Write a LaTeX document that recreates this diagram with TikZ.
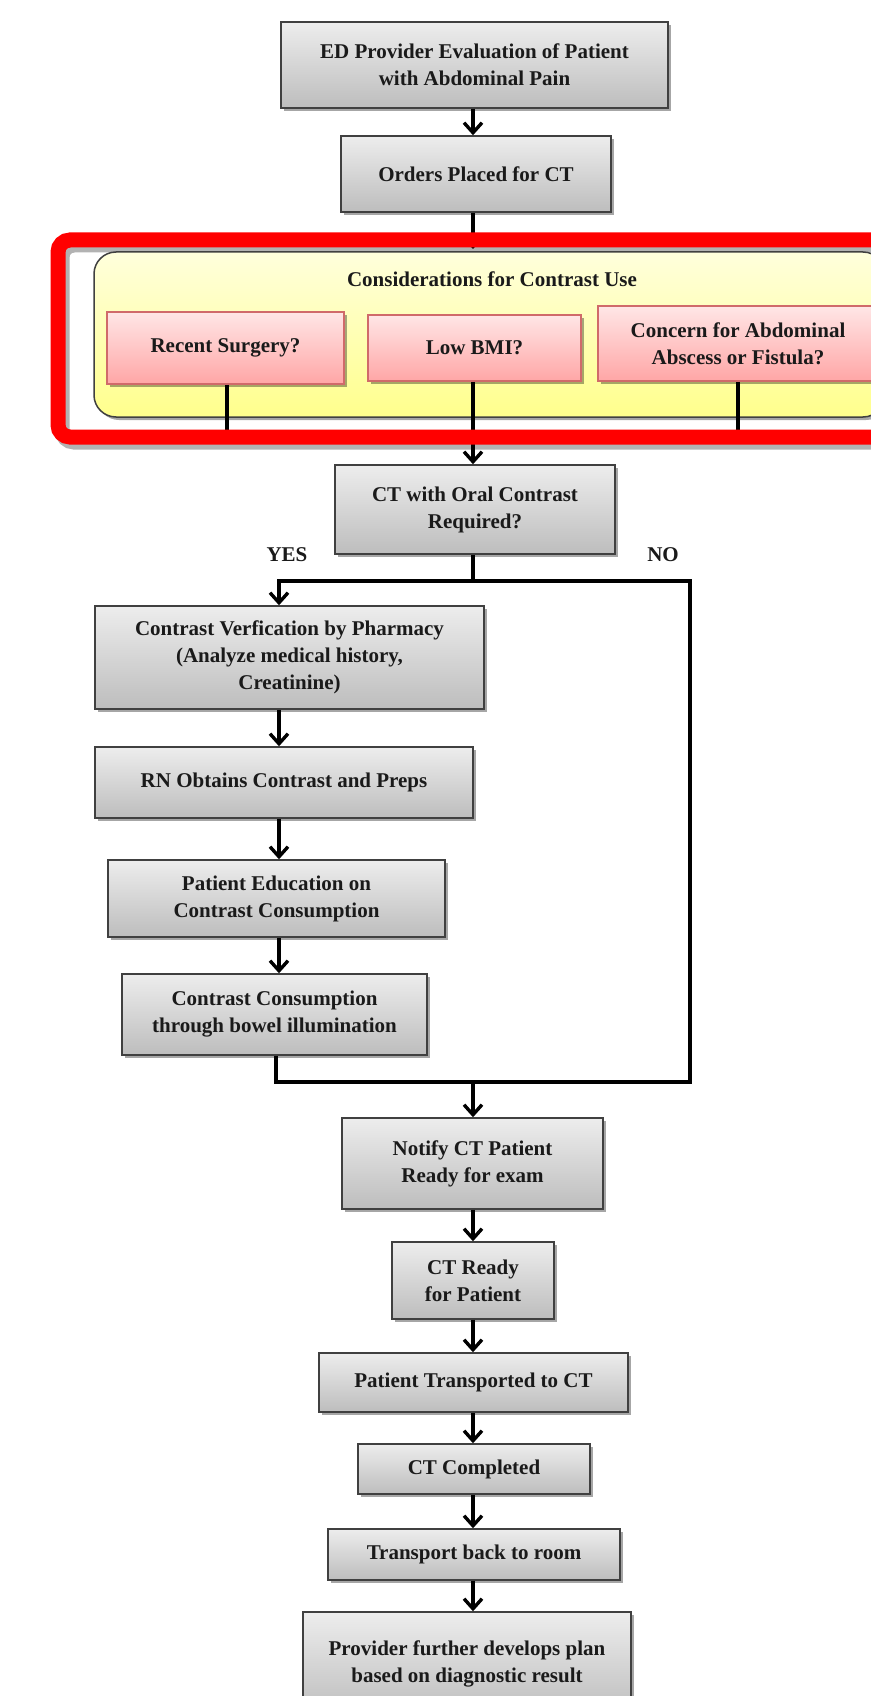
\documentclass[tikz,border=0pt]{standalone}
\usepackage{fontspec}
\setmainfont{Liberation Serif}
\usetikzlibrary{shadows,arrows.meta}
\definecolor{gtop}{HTML}{EDEDED}
\definecolor{gbot}{HTML}{BDBDBD}
\definecolor{ptop}{HTML}{FFE6E6}
\definecolor{pbot}{HTML}{FFA6A6}
\definecolor{pbord}{HTML}{D06A6A}
\definecolor{ytop}{HTML}{FFFFDC}
\definecolor{ybot}{HTML}{FFFF8C}
\definecolor{txt}{HTML}{1A1A1A}
\begin{document}
\begin{tikzpicture}[x=1pt,y=-1pt,
  shd/.style={drop shadow={shadow xshift=3pt,shadow yshift=-3pt,fill=black,opacity=0.35}},
  gbox/.style={draw=black!75,line width=1.5pt,top color=gtop,bottom color=gbot,shd,
    align=center,inner sep=0pt,text=txt,font=\fontsize{21}{27}\selectfont\bfseries},
  pbox/.style={draw=pbord,line width=1.5pt,top color=ptop,bottom color=pbot,shd,
    align=center,inner sep=0pt,text=txt,font=\fontsize{21}{27}\selectfont\bfseries},
  lbl/.style={inner sep=0pt,text=txt,font=\fontsize{21}{27}\selectfont\bfseries},
  conn/.style={line width=3.4pt,black},
  arr/.style={conn,-{Straight Barb[length=10pt,width=18pt]}}]
\useasboundingbox (0,0) rectangle (870,1696);
\fill[white] (0,0) rectangle (870,1696);
\coordinate (mc) at (473,0);
\coordinate (lc) at (279,0);

% top boxes
\node[gbox,minimum width=387pt,minimum height=86pt] (ed) at (474.5,65)
  {ED Provider Evaluation of Patient\\with Abdominal Pain};
\node[gbox,minimum width=270pt,minimum height=76pt] (ord) at (476,174) {Orders Placed for CT};
\coordinate (ytp) at (473,249);
\draw[arr] (ed.south -| mc) -- (ord.north -| mc);
\draw[arr] (ord.south -| mc) -- (ytp);

% considerations panel
\draw[black,opacity=0.3,line width=15pt,rounded corners=12pt] (62,245) rectangle (910,442);
\draw[draw=black!75,line width=1.5pt,top color=ytop,bottom color=ybot,rounded corners=22pt,shd]
  (94,252) rectangle (885,417);
\node[lbl] (ttl) at (492,279) {Considerations for Contrast Use};
\node[pbox,minimum width=237pt,minimum height=72pt] (p1) at (225.5,348) {Recent Surgery?};
\node[pbox,minimum width=213pt,minimum height=66pt] (p2) at (474.5,348) {Low BMI?};
\node[pbox,minimum width=280pt,minimum height=75pt] (p3) at (738,343.5)
  {Concern for Abdominal\\Abscess or Fistula?};
\coordinate (e1) at (227,436);
\coordinate (e3) at (738,436);
\draw[conn] (p1.south -| e1) -- (e1);
\draw[conn] (p3.south) -- (e3);

% decision
\node[gbox,minimum width=280pt,minimum height=89pt] (ctq) at (475,509.5)
  {CT with Oral Contrast\\Required?};
\draw[arr] (p2.south -| mc) -- (ctq.north -| mc);
\draw[red,line width=15pt,rounded corners=12pt] (58,240) rectangle (905,437);

\node[lbl] (yes) at (287,555) {YES};
\node[lbl] (no) at (663,555) {NO};

% left branch
\node[gbox,minimum width=389pt,minimum height=103pt] (cv) at (289.5,657.5)
  {Contrast Verfication by Pharmacy\\(Analyze medical history,\\Creatinine)};
\node[gbox,minimum width=378pt,minimum height=71pt] (rn) at (284,782.5)
  {RN Obtains Contrast and Preps};
\node[gbox,minimum width=337pt,minimum height=77pt] (pe) at (276.5,898.5)
  {Patient Education on\\Contrast Consumption};
\node[gbox,minimum width=305pt,minimum height=81pt] (cc) at (274.5,1014.5)
  {Contrast Consumption\\through bowel illumination};

\coordinate (j1) at (473,581);
\coordinate (jl) at (279,581);
\coordinate (nr) at (690,581);
\coordinate (nb) at (690,1082);
\coordinate (cb) at (276,1082);
\coordinate (mb) at (473,1082);

\draw[conn] (ctq.south -| mc) -- (j1);
\draw[arr] (j1) -- (jl) -- (cv.north -| jl);
\draw[conn] (j1) -- (nr) -- (nb) -- (mb);
\draw[arr] (cv.south -| lc) -- (rn.north -| lc);
\draw[arr] (rn.south -| lc) -- (pe.north -| lc);
\draw[arr] (pe.south -| lc) -- (cc.north -| lc);
\draw[conn] (cc.south -| cb) -- (cb) -- (mb);

% lower column
\node[gbox,minimum width=261pt,minimum height=91pt] (nt) at (472.5,1163.5)
  {Notify CT Patient\\Ready for exam};
\node[gbox,minimum width=162pt,minimum height=77pt] (ctr) at (473,1280.5)
  {CT Ready\\for Patient};
\node[gbox,minimum width=309pt,minimum height=59pt] (pt) at (473.5,1382.5)
  {Patient Transported to CT};
\node[gbox,minimum width=232pt,minimum height=50pt] (ctc) at (474,1469)
  {CT Completed};
\node[gbox,minimum width=292pt,minimum height=51pt] (tb) at (474,1554.5)
  {Transport back to room};
\node[gbox,minimum width=328pt,minimum height=104pt] (pf) at (467,1664)
  {Provider further develops plan\\based on diagnostic result};

\draw[arr] (mb) -- (nt.north -| mc);
\draw[arr] (nt.south -| mc) -- (ctr.north -| mc);
\draw[arr] (ctr.south -| mc) -- (pt.north -| mc);
\draw[arr] (pt.south -| mc) -- (ctc.north -| mc);
\draw[arr] (ctc.south -| mc) -- (tb.north -| mc);
\draw[arr] (tb.south -| mc) -- (pf.north -| mc);
\end{tikzpicture}
\end{document}
